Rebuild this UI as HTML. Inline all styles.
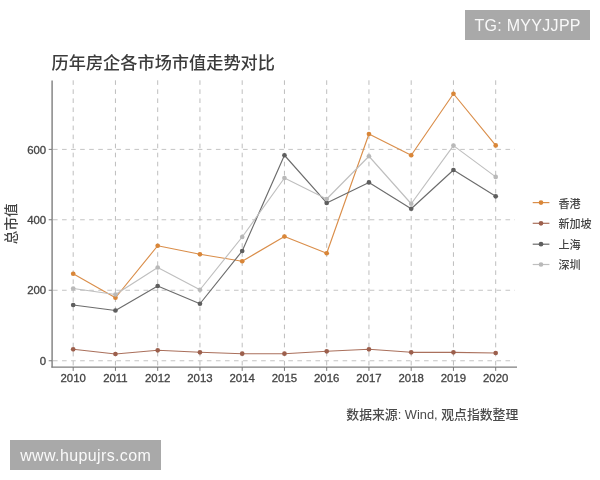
<!DOCTYPE html>
<html lang="zh"><head><meta charset="utf-8"><title>历年房企各市场市值走势对比</title>
<style>
html,body{margin:0;padding:0;background:#fff;}
body{width:600px;height:480px;position:relative;overflow:hidden;font-family:"Liberation Sans","Noto Sans CJK SC",sans-serif;}
svg{position:absolute;left:0;top:0;filter:blur(0.35px);}
svg text{font-family:"Liberation Sans","Noto Sans CJK SC",sans-serif;}
.wm{position:absolute;background:#a9a9a9;color:rgba(255,255,255,0.93);font-size:16px;height:30px;line-height:32px;text-align:center;white-space:nowrap;overflow:hidden;}
</style></head><body>
<svg width="600" height="480" viewBox="0 0 600 480">
<rect width="600" height="480" fill="#fff"/>

<g stroke="#bebebe" stroke-width="1" stroke-dasharray="4.6 4.45" fill="none">
<line x1="73.20" y1="80.3" x2="73.20" y2="366.5"/>
<line x1="115.45" y1="80.3" x2="115.45" y2="366.5"/>
<line x1="157.70" y1="80.3" x2="157.70" y2="366.5"/>
<line x1="199.95" y1="80.3" x2="199.95" y2="366.5"/>
<line x1="242.20" y1="80.3" x2="242.20" y2="366.5"/>
<line x1="284.45" y1="80.3" x2="284.45" y2="366.5"/>
<line x1="326.70" y1="80.3" x2="326.70" y2="366.5"/>
<line x1="368.95" y1="80.3" x2="368.95" y2="366.5"/>
<line x1="411.20" y1="80.3" x2="411.20" y2="366.5"/>
<line x1="453.45" y1="80.3" x2="453.45" y2="366.5"/>
<line x1="495.70" y1="80.3" x2="495.70" y2="366.5"/>
</g>
<g stroke="#c4c4c4" stroke-width="1" stroke-dasharray="4.6 4.45" fill="none">
<line x1="53" y1="360.75" x2="515" y2="360.75"/>
<line x1="53" y1="290.25" x2="515" y2="290.25"/>
<line x1="53" y1="219.75" x2="515" y2="219.75"/>
<line x1="53" y1="149.4" x2="515" y2="149.4"/>
</g>
<g stroke="#7e7e7e" fill="none"><line x1="52.1" y1="80.5" x2="52.1" y2="367.6" stroke-width="1.4"/><line x1="51.4" y1="367.05" x2="517" y2="367.05" stroke-width="1.15"/></g>
<g stroke="#7a7a7a" stroke-width="1" fill="none">
<line x1="73.20" y1="367" x2="73.20" y2="370.9"/>
<line x1="115.45" y1="367" x2="115.45" y2="370.9"/>
<line x1="157.70" y1="367" x2="157.70" y2="370.9"/>
<line x1="199.95" y1="367" x2="199.95" y2="370.9"/>
<line x1="242.20" y1="367" x2="242.20" y2="370.9"/>
<line x1="284.45" y1="367" x2="284.45" y2="370.9"/>
<line x1="326.70" y1="367" x2="326.70" y2="370.9"/>
<line x1="368.95" y1="367" x2="368.95" y2="370.9"/>
<line x1="411.20" y1="367" x2="411.20" y2="370.9"/>
<line x1="453.45" y1="367" x2="453.45" y2="370.9"/>
<line x1="495.70" y1="367" x2="495.70" y2="370.9"/>
<line x1="48.7" y1="360.75" x2="52" y2="360.75"/>
<line x1="48.7" y1="290.25" x2="52" y2="290.25"/>
<line x1="48.7" y1="219.75" x2="52" y2="219.75"/>
<line x1="48.7" y1="149.4" x2="52" y2="149.4"/>
</g>
<g font-size="11.4" fill="#444" stroke="#444" stroke-width="0.3">
<text x="73.20" y="381.5" text-anchor="middle">2010</text>
<text x="115.45" y="381.5" text-anchor="middle">2011</text>
<text x="157.70" y="381.5" text-anchor="middle">2012</text>
<text x="199.95" y="381.5" text-anchor="middle">2013</text>
<text x="242.20" y="381.5" text-anchor="middle">2014</text>
<text x="284.45" y="381.5" text-anchor="middle">2015</text>
<text x="326.70" y="381.5" text-anchor="middle">2016</text>
<text x="368.95" y="381.5" text-anchor="middle">2017</text>
<text x="411.20" y="381.5" text-anchor="middle">2018</text>
<text x="453.45" y="381.5" text-anchor="middle">2019</text>
<text x="495.70" y="381.5" text-anchor="middle">2020</text>
<text x="46.2" y="364.95" text-anchor="end">0</text>
<text x="46.2" y="294.45" text-anchor="end">200</text>
<text x="46.2" y="223.95" text-anchor="end">400</text>
<text x="46.2" y="153.60" text-anchor="end">600</text>
</g>
<polyline points="73.20,273.75 115.45,297.75 157.70,245.75 199.95,254.25 242.20,261.25 284.45,236.50 326.70,253.25 368.95,134.00 411.20,155.25 453.45,93.75 495.70,145.40" fill="none" stroke="#da8e4a" stroke-width="1.15" stroke-linejoin="round"/>
<g fill="#d98638"><circle cx="73.20" cy="273.75" r="2.35"/><circle cx="115.45" cy="297.75" r="2.35"/><circle cx="157.70" cy="245.75" r="2.35"/><circle cx="199.95" cy="254.25" r="2.35"/><circle cx="242.20" cy="261.25" r="2.35"/><circle cx="284.45" cy="236.50" r="2.35"/><circle cx="326.70" cy="253.25" r="2.35"/><circle cx="368.95" cy="134.00" r="2.35"/><circle cx="411.20" cy="155.25" r="2.35"/><circle cx="453.45" cy="93.75" r="2.35"/><circle cx="495.70" cy="145.40" r="2.35"/></g>
<polyline points="73.20,349.30 115.45,354.00 157.70,350.30 199.95,352.30 242.20,353.70 284.45,353.70 326.70,351.30 368.95,349.30 411.20,352.30 453.45,352.30 495.70,353.00" fill="none" stroke="#aa705c" stroke-width="1.15" stroke-linejoin="round"/>
<g fill="#9c5f4c"><circle cx="73.20" cy="349.30" r="2.35"/><circle cx="115.45" cy="354.00" r="2.35"/><circle cx="157.70" cy="350.30" r="2.35"/><circle cx="199.95" cy="352.30" r="2.35"/><circle cx="242.20" cy="353.70" r="2.35"/><circle cx="284.45" cy="353.70" r="2.35"/><circle cx="326.70" cy="351.30" r="2.35"/><circle cx="368.95" cy="349.30" r="2.35"/><circle cx="411.20" cy="352.30" r="2.35"/><circle cx="453.45" cy="352.30" r="2.35"/><circle cx="495.70" cy="353.00" r="2.35"/></g>
<polyline points="73.20,305.00 115.45,310.50 157.70,286.00 199.95,303.75 242.20,251.00 284.45,155.25 326.70,202.90 368.95,182.40 411.20,208.75 453.45,170.00 495.70,196.30" fill="none" stroke="#6c6c6c" stroke-width="1.15" stroke-linejoin="round"/>
<g fill="#5e5e5e"><circle cx="73.20" cy="305.00" r="2.35"/><circle cx="115.45" cy="310.50" r="2.35"/><circle cx="157.70" cy="286.00" r="2.35"/><circle cx="199.95" cy="303.75" r="2.35"/><circle cx="242.20" cy="251.00" r="2.35"/><circle cx="284.45" cy="155.25" r="2.35"/><circle cx="326.70" cy="202.90" r="2.35"/><circle cx="368.95" cy="182.40" r="2.35"/><circle cx="411.20" cy="208.75" r="2.35"/><circle cx="453.45" cy="170.00" r="2.35"/><circle cx="495.70" cy="196.30" r="2.35"/></g>
<polyline points="73.20,288.50 115.45,294.50 157.70,267.50 199.95,289.75 242.20,237.00 284.45,178.00 326.70,199.00 368.95,156.25 411.20,203.75 453.45,145.60 495.70,176.90" fill="none" stroke="#bfbfbf" stroke-width="1.15" stroke-linejoin="round"/>
<g fill="#b9b9b9"><circle cx="73.20" cy="288.50" r="2.35"/><circle cx="115.45" cy="294.50" r="2.35"/><circle cx="157.70" cy="267.50" r="2.35"/><circle cx="199.95" cy="289.75" r="2.35"/><circle cx="242.20" cy="237.00" r="2.35"/><circle cx="284.45" cy="178.00" r="2.35"/><circle cx="326.70" cy="199.00" r="2.35"/><circle cx="368.95" cy="156.25" r="2.35"/><circle cx="411.20" cy="203.75" r="2.35"/><circle cx="453.45" cy="145.60" r="2.35"/><circle cx="495.70" cy="176.90" r="2.35"/></g>
<line x1="532.7" y1="202.6" x2="549.4" y2="202.6" stroke="#da8e4a" stroke-width="1.2"/><circle cx="541" cy="202.6" r="2.35" fill="#d98638"/>
<text x="558.4" y="207.5" font-size="11.1" font-weight="500" fill="#444">香港</text>
<line x1="532.7" y1="223.3" x2="549.4" y2="223.3" stroke="#aa705c" stroke-width="1.2"/><circle cx="541" cy="223.3" r="2.35" fill="#9c5f4c"/>
<text x="558.4" y="228.2" font-size="11.1" font-weight="500" fill="#444">新加坡</text>
<line x1="532.7" y1="244.2" x2="549.4" y2="244.2" stroke="#6c6c6c" stroke-width="1.2"/><circle cx="541" cy="244.2" r="2.35" fill="#5e5e5e"/>
<text x="558.4" y="249.1" font-size="11.1" font-weight="500" fill="#444">上海</text>
<line x1="532.7" y1="264.5" x2="549.4" y2="264.5" stroke="#bfbfbf" stroke-width="1.2"/><circle cx="541" cy="264.5" r="2.35" fill="#b9b9b9"/>
<text x="558.4" y="269.4" font-size="11.1" font-weight="500" fill="#444">深圳</text>
<text x="51.5" y="68.9" font-size="17.2" font-weight="500" fill="#3c3c3c">历年房企各市场市值走势对比</text>
<text transform="translate(16.4,223.8) rotate(-90)" text-anchor="middle" font-size="13.6" font-weight="500" fill="#444">总市值</text>
<text x="346.3" y="418.9" font-size="12.85" font-weight="500" fill="#4a4a4a">数据来源: Wind, 观点指数整理</text>
</svg>
<div class="wm" style="left:465px;top:10px;width:125px;letter-spacing:0.3px;text-indent:0.3px;">TG: MYYJJPP</div>
<div class="wm" style="left:10px;top:440px;width:151px;letter-spacing:0.38px;text-indent:0.4px;">www.hupujrs.com</div>
</body></html>
